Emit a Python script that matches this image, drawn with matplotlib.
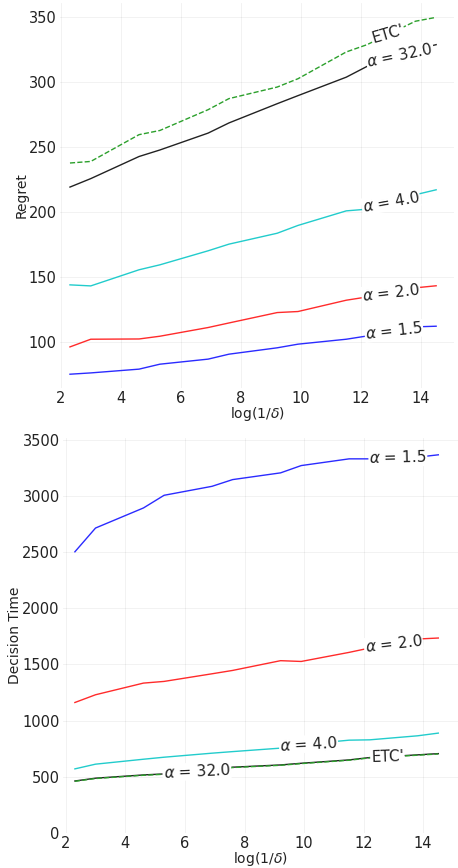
import numpy as np
import matplotlib.pyplot as plt

plt.rcParams['font.family'] = ['DejaVu Sans']
plt.rcParams['mathtext.fontset'] = 'dejavusans'

# x axis: log(1/delta)
deltas = [1e-1, 5e-2, 1e-2, 5e-3, 1e-3, 5e-4, 1e-4, 5e-5, 1e-5, 5e-6, 1e-6, 5e-7]
log_inv_delta = np.log(1 / np.array(deltas))

names = ['α = 1.5', 'α = 2.0', 'α = 4.0', 'α = 32.0', "ETC'"]
colors = ['#2b2bff', '#ff2b2b', '#22cccc', '#222222', '#2ca02c']
styles = ['-', '-', '-', '-', '--']

# regret per algorithm
regret_15 = [75.6, 76.6, 79.5, 83.3, 87.2, 91.0, 95.9, 98.7, 102.5, 105.0, 112.0, 112.5]
regret_2 = [96.6, 102.5, 102.7, 104.8, 111.5, 115.0, 123.0, 123.8, 132.5, 135.0, 142.0, 143.6]
regret_4 = [144.3, 143.5, 155.9, 159.7, 170.5, 175.6, 184.0, 190.0, 201.2, 202.5, 213.6, 217.4]
regret_32 = [219.5, 226.0, 243.0, 248.0, 261.0, 268.8, 283.6, 289.8, 304.0, 312.3, 325.0, 329.0]
regret_etc = [238.0, 239.2, 259.8, 263.0, 279.0, 287.5, 296.4, 302.8, 323.4, 329.0, 347.0, 350.0]

# decision time per algorithm
dtime_15 = [2505, 2717, 2896, 3009, 3089, 3149, 3209, 3274, 3334, 3334, 3349, 3370]
dtime_2 = [1161, 1230, 1334, 1349, 1417, 1447, 1534, 1527, 1608, 1647, 1727, 1736]
dtime_4 = [569, 611, 655, 673, 709, 723, 754, 785, 825, 828, 864, 888]
dtime_32 = [461, 486, 515, 524, 558, 584, 604, 619, 649, 670, 694, 705]
dtime_etc = [458, 483, 512, 521, 555, 581, 601, 616, 646, 667, 691, 702]

regret = [regret_15, regret_2, regret_4, regret_32, regret_etc]
dtime = [dtime_15, dtime_2, dtime_4, dtime_32, dtime_etc]

top_label_x = [13.1, 13.0, 13.0, 13.3, 12.9]
bot_label_x = [13.15, 13.0, 10.15, 6.4, 12.8]

fig = plt.figure(figsize=(4.58, 8.68), dpi=100)
ax1 = fig.add_axes([0.131, 0.553, 0.860, 0.4435])
ax2 = fig.add_axes([0.138, 0.0407, 0.862, 0.4547])


def style_axes(ax, xlim, ylim, yticks, ylabel):
    ax.set_xlim(*xlim)
    ax.set_ylim(*ylim)
    ax.set_xticks([2, 4, 6, 8, 10, 12, 14])
    ax.set_yticks(yticks)
    for s in ax.spines.values():
        s.set_visible(False)
    ax.grid(True, color='#000000', alpha=0.06, linewidth=0.6)
    ax.tick_params(length=0, labelsize=10.5, colors='#222222', pad=2.5)
    ax.set_xlabel('log(1/$\\delta$)', fontsize=10, color='#222222', labelpad=-1)
    ax.set_ylabel(ylabel, fontsize=10, color='#222222', labelpad=0)


def draw(ax, series, label_x):
    for vals, name, c, ls in zip(series, names, colors, styles):
        ax.plot(log_inv_delta, vals, color=c, linestyle=ls, linewidth=1.0)
    fig.canvas.draw()
    for vals, name, lx in zip(series, names, label_x):
        ly = np.interp(lx, log_inv_delta, vals)
        i = np.searchsorted(log_inv_delta, lx)
        p = ax.transData.transform([[log_inv_delta[i - 1], vals[i - 1]], [log_inv_delta[i], vals[i]]])
        # labels in the original lean less than the true slope
        ang = np.degrees(np.arctan(0.6 * (p[1, 1] - p[0, 1]) / (p[1, 0] - p[0, 0])))
        lbl = name.replace('α', '$\\alpha$')
        ax.text(lx, ly, lbl, rotation=ang, rotation_mode='anchor', ha='center', va='center',
                fontsize=11, color='#222222', zorder=5,
                bbox=dict(facecolor='white', edgecolor='none', pad=0.5))


style_axes(ax1, (1.97, 15.1), (65, 361), [100, 150, 200, 250, 300, 350], 'Regret')
style_axes(ax2, (1.91, 15.17), (0, 3520), [0, 500, 1000, 1500, 2000, 2500, 3000, 3500], 'Decision Time')
draw(ax1, regret, top_label_x)
draw(ax2, dtime, bot_label_x)

fig.savefig('out.png', dpi=100)
